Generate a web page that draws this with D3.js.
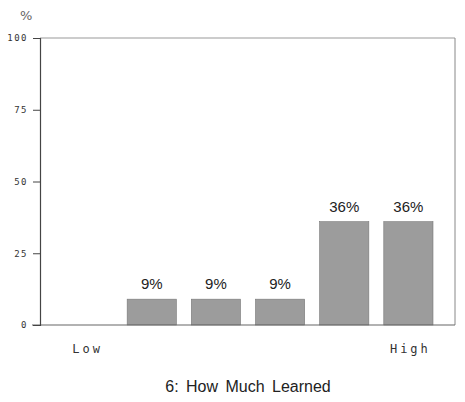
<!DOCTYPE html>
<html><head><meta charset="utf-8">
<script src="https://cdn.jsdelivr.net/npm/d3@7"></script>
<style>body{margin:0;background:#fff;}</style>
</head><body>
<svg id="c" width="465" height="402"></svg>
<script>
const categories = ["1","2","3","4","5","6"];
const values = [0, 9, 9, 9, 36, 36];
const yTicks = [0, 25, 50, 75, 100];
const endLabels = ["Low", "High"];
const title = "6: How Much Learned";

(function(){
const svg = d3.select("#c");
const pLeft = 40, pRight = 455, pTop = 38, pBottom = 325;
const x = d3.scaleBand().domain(categories).range([55.5, 440.5]).paddingInner(0.233).paddingOuter(0.117);
const y = d3.scaleLinear().domain([0, 100]).range([pBottom, pTop]);

// frame
svg.append("line").attr("x1", pLeft).attr("x2", pRight).attr("y1", pTop).attr("y2", pTop).attr("stroke", "#bbb").attr("stroke-width", 1.5);
svg.append("line").attr("x1", pRight).attr("x2", pRight).attr("y1", pTop).attr("y2", pBottom).attr("stroke", "#888").attr("stroke-width", 1);

// bars
svg.selectAll("rect.bar").data(values).join("rect")
  .attr("class", "bar")
  .attr("x", (d, i) => x(categories[i]))
  .attr("width", x.bandwidth())
  .attr("y", d => y(d))
  .attr("height", d => y(0) - y(d))
  .attr("fill", "#9c9c9c")
  .attr("stroke", "#777").attr("stroke-width", 0.6);

// baseline
svg.append("line").attr("x1", pLeft - 8).attr("x2", pRight).attr("y1", pBottom).attr("y2", pBottom).attr("stroke", "#666").attr("stroke-width", 1.2);

// y axis
const yAxis = d3.axisLeft(y).tickValues(yTicks).tickSize(7).tickPadding(5);
const ga = svg.append("g").attr("transform", `translate(${pLeft},0)`).call(yAxis);
ga.select(".domain").attr("stroke", "#444").attr("stroke-width", 1.2);
ga.selectAll(".tick line").attr("stroke", "#444");
ga.selectAll(".tick text").attr("font-family", "DejaVu Sans Mono, monospace").attr("font-size", 9).attr("letter-spacing", 1.5).attr("fill", "#333");

// value labels
values.forEach((d, i) => {
  if (d > 0) {
    svg.append("text").attr("x", x(categories[i]) + x.bandwidth() / 2).attr("y", y(d) - 10)
      .attr("text-anchor", "middle").attr("font-family", "Liberation Sans, Arial, sans-serif")
      .attr("font-size", 15).attr("fill", "#222").text(d + "%");
  }
});

// end labels
svg.append("text").attr("x", x(categories[0]) + x.bandwidth() / 2).attr("y", 353).attr("text-anchor", "middle")
  .attr("font-family", "DejaVu Sans Mono, monospace").attr("font-size", 12).attr("letter-spacing", 3).attr("fill", "#333").text(endLabels[0]);
svg.append("text").attr("x", x(categories[5]) + x.bandwidth() / 2 + 2).attr("y", 353).attr("text-anchor", "middle")
  .attr("font-family", "DejaVu Sans Mono, monospace").attr("font-size", 12).attr("letter-spacing", 3).attr("fill", "#333").text(endLabels[1]);

// % unit
svg.append("text").attr("x", 20).attr("y", 20).attr("font-family", "DejaVu Sans, sans-serif").attr("font-size", 13).attr("fill", "#666").text("%");

// title
svg.append("text").attr("x", 248).attr("y", 392).attr("text-anchor", "middle")
  .attr("font-family", "Liberation Sans, Arial, sans-serif").attr("font-size", 16).attr("word-spacing", 3).attr("fill", "#222").text(title);
})();
</script>
</body></html>
